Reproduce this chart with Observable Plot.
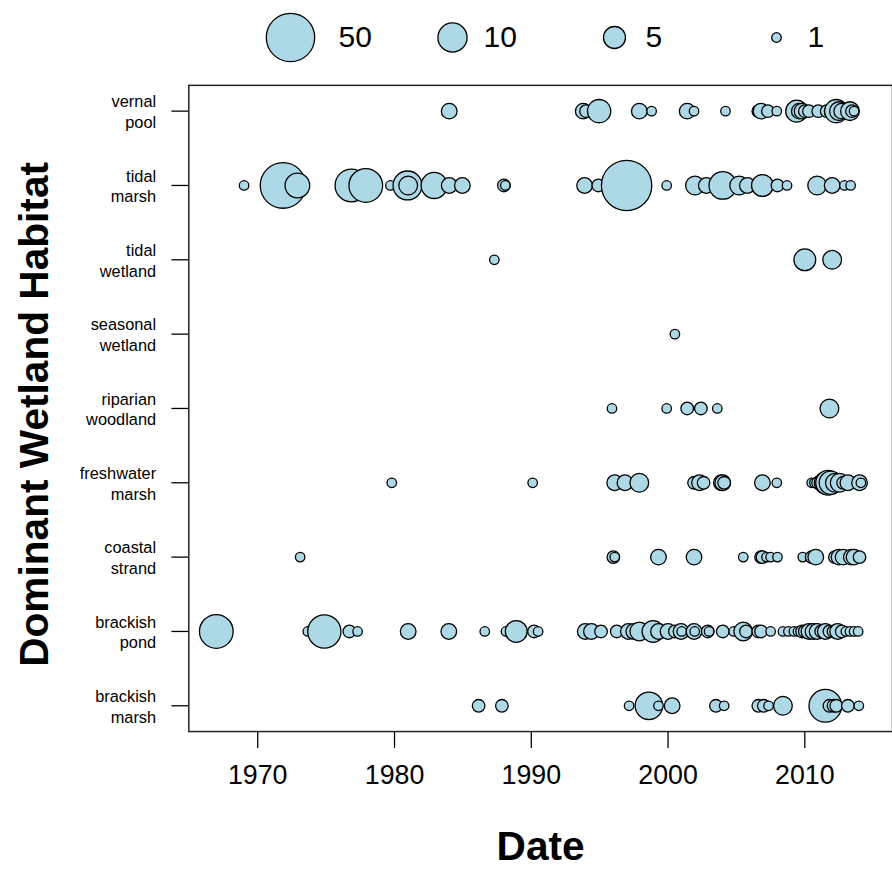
<!DOCTYPE html>
<html><head><meta charset="utf-8">
<script src="https://cdn.jsdelivr.net/npm/d3@7"></script>
<script src="https://cdn.jsdelivr.net/npm/@observablehq/plot@0.6"></script>
<style>
html,body{margin:0;padding:0;background:#fff;overflow:hidden;width:892px;height:872px;}
#chart svg{display:block;}
</style></head><body><div id="chart"></div>
<script>
// categories (top to bottom)
const habitats = ["vernal pool","tidal marsh","tidal wetland","seasonal wetland","riparian woodland","freshwater marsh","coastal strand","brackish pond","brackish marsh"];
const xTicks = [1970,1980,1990,2000,2010];
const legendValues = [50,10,5,1];
const xTitle = "Date";
const yTitle = "Dominant Wetland Habitat";

// [date, count] per habitat
const vernalPool = [[1984.0,3],[1993.8,3],[1994.0,2],[1994.96,6],[1997.9,3],[1998.8,1],[2001.4,3],[2001.9,1],[2004.2,1],[2006.6,2],[2006.8,3],[2007.3,2],[2007.95,1],[2009.4,5],[2009.6,3],[2009.8,3],[2010.0,2],[2010.3,2],[2010.98,2],[2011.6,2],[2012.0,3],[2012.3,6],[2012.5,4],[2012.7,3],[2013.3,4],[2013.45,2],[2013.6,1]];
const tidalMarsh = [[1969.0,1],[1971.85,45],[1972.9,7],[1976.85,18],[1977.9,20],[1979.7,1],[1980.95,10],[1981.0,4],[1982.9,8],[1984.0,3],[1984.96,3],[1988.0,2],[1988.1,1],[1993.9,3],[1994.9,2],[1996.97,55],[1999.9,1],[2001.97,4],[2002.8,3],[2004.0,9],[2005.2,4],[2005.8,3],[2006.9,5],[2008.0,2],[2008.7,1],[2010.9,4],[2012.0,3],[2012.9,1],[2013.35,1]];
const tidalWetland = [[1987.3,1],[2010.0,5],[2012.0,4]];
const seasonalWetland = [[2000.5,1]];
const riparianWoodland = [[1995.9,1],[1999.9,1],[2001.4,2],[2002.4,2],[2003.6,1],[2011.8,4]];
const freshwaterMarsh = [[1979.8,1],[1990.1,1],[1996.1,3],[1996.85,3],[1997.9,4],[2001.9,2],[2002.3,3],[2002.6,2],[2003.9,3],[2004.0,3],[2004.1,2],[2006.9,3],[2007.95,1],[2010.5,1],[2010.7,1],[2010.97,2],[2011.5,5],[2011.7,7],[2011.9,6],[2012.2,4],[2012.55,4],[2012.8,2],[2013.15,3],[2014.0,3],[2014.1,1]];
const coastalStrand = [[1973.1,1],[1996.0,2],[1996.1,1],[1999.3,3],[2001.9,3],[2005.5,1],[2006.8,2],[2006.9,2],[2007.2,1],[2007.5,1],[2008.0,1],[2009.85,1],[2010.5,2],[2010.8,3],[2012.2,2],[2012.5,3],[2012.8,3],[2013.4,3],[2013.6,3],[2014.0,2]];
const brackishPond = [[1966.97,20],[1973.66,1],[1974.87,19],[1976.7,2],[1977.3,1],[1981.0,3],[1983.97,3],[1986.6,1],[1988.15,1],[1988.9,5],[1990.2,2],[1990.5,1],[1993.95,3],[1994.4,3],[1995.1,2],[1996.25,2],[1997.1,3],[1997.5,3],[1997.9,4],[1998.9,5],[1999.3,3],[2000.0,3],[2000.5,2],[2000.95,3],[2001.0,1],[2001.9,3],[2001.95,1],[2002.9,2],[2003.0,1],[2004.0,2],[2004.8,1],[2005.5,4],[2005.7,2],[2006.6,2],[2006.8,2],[2007.5,1],[2008.4,1],[2008.8,1],[2009.2,1],[2009.5,1],[2009.8,2],[2010.0,2],[2010.3,3],[2010.6,3],[2010.9,3],[2011.2,2],[2011.5,3],[2011.8,2],[2012.1,2],[2012.4,3],[2012.7,2],[2013.0,1],[2013.3,1],[2013.6,1],[2013.9,1]];
const brackishMarsh = [[1986.15,2],[1987.85,2],[1997.15,1],[1998.6,9],[1999.3,1],[2000.3,3],[2003.5,2],[2004.1,1],[2006.6,2],[2007.0,2],[2007.35,1],[2008.4,4],[2011.5,18],[2011.8,2],[2012.1,2],[2012.3,2],[2013.15,2],[2013.95,1]];

const rows = [vernalPool,tidalMarsh,tidalWetland,seasonalWetland,riparianWoodland,freshwaterMarsh,coastalStrand,brackishPond,brackishMarsh];
const records = rows.flatMap((arr,i) => arr.map(([date,count]) => ({habitat: habitats[i], date, count})));

const font = "Arial, 'Liberation Sans', sans-serif";
const rScale = {type: "linear", domain: [0,1,5,10,50,60], range: [0,4.8,11,14.6,24.2,26.6]};
const fillColor = "#ADD8E6";

const legend = Plot.plot({
  width: 892, height: 70, marginTop: 4, marginBottom: 0, marginLeft: 0, marginRight: 0,
  style: {fontFamily: font, background: "white"},
  x: {type: "point", domain: legendValues, range: [289, 776], padding: 0, axis: null},
  r: rScale,
  marks: [
    Plot.dot(legendValues, {x: d => d, r: d => d, fill: fillColor, stroke: "black", strokeWidth: 1.3}),
    Plot.text(legendValues.filter(d => d >= 50), {x: d => d, text: d => String(d), dx: 48, textAnchor: "start", fontSize: 30, fill: "black"}),
    Plot.text(legendValues.filter(d => d < 50), {x: d => d, text: d => String(d), dx: 31, textAnchor: "start", fontSize: 30, fill: "black"})
  ]
});

const main = Plot.plot({
  width: 900, height: 802,
  marginLeft: 190, marginRight: 0, marginTop: 15, marginBottom: 135,
  style: {fontFamily: font, background: "white", color: "black"},
  x: {domain: [1964.96, 2016.41], label: null},
  y: {type: "point", domain: habitats, padding: 0.32, label: null},
  r: rScale,
  marks: [
    Plot.axisX({ticks: xTicks, tickFormat: d => String(d), tickSize: 17, tickPadding: 17, fontSize: 27, label: null, strokeWidth: 1.3}),
    Plot.axisY({tickSize: 17, tickPadding: 16, fontSize: 16.5, lineHeight: 1.27, tickFormat: d => d.replace(" ", "\n"), label: null, strokeWidth: 1.3}),
    Plot.dot(records, {x: "date", y: "habitat", r: "count", fill: fillColor, stroke: "black", strokeWidth: 1.3, sort: null}),
    Plot.frame({stroke: "#222", strokeWidth: 1.5}),
    Plot.text([yTitle], {text: d => d, frameAnchor: "left", dx: -155, dy: 6, rotate: -90, textAnchor: "middle", fontSize: 41, fontWeight: "bold", lineAnchor: "middle", fill: "black"}),
    Plot.text([xTitle], {text: d => d, frameAnchor: "bottom", dy: 116, textAnchor: "middle", fontSize: 41, fontWeight: "bold", lineAnchor: "middle", fill: "black"})
  ]
});

const c = document.getElementById("chart");
c.appendChild(legend);
c.appendChild(main);
</script></body></html>
